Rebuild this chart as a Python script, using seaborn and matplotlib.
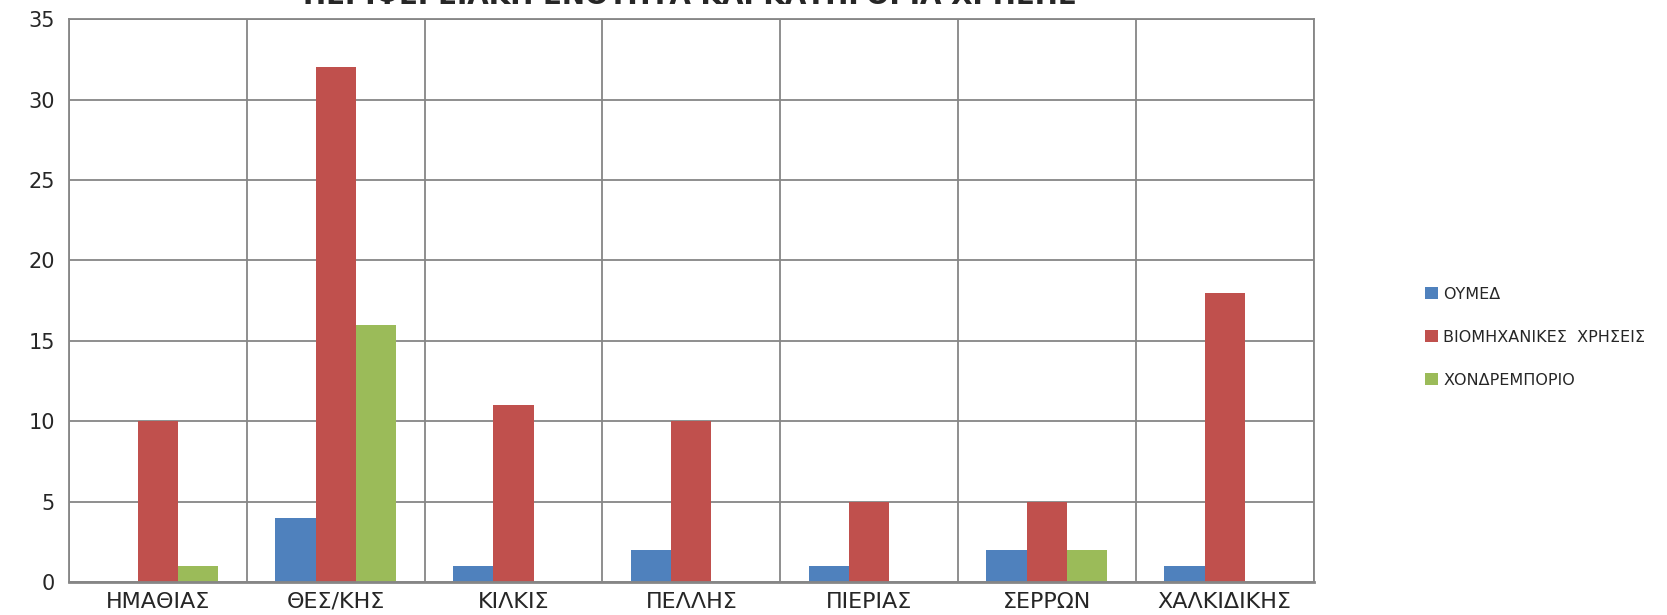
import seaborn as sns
import matplotlib.pyplot as plt
import pandas as pd
import numpy as np

# data
regions = ["ΗΜΑΘΙΑΣ", "ΘΕΣ/ΚΗΣ", "ΚΙΛΚΙΣ", "ΠΕΛΛΗΣ", "ΠΙΕΡΙΑΣ", "ΣΕΡΡΩΝ", "ΧΑΛΚΙΔΙΚΗΣ"]
series = ["ΟΥΜΕΔ", "ΒΙΟΜΗΧΑΝΙΚΕΣ  ΧΡΗΣΕΙΣ", "ΧΟΝΔΡΕΜΠΟΡΙΟ"]
oumed = [0, 4, 1, 2, 1, 2, 1]
viomix = [10, 32, 11, 10, 5, 5, 18]
xondr = [1, 16, 0, 0, 0, 2, 0]
yticks = [0, 5, 10, 15, 20, 25, 30, 35]
title = "ΠΕΡΙΦΕΡΕΙΑΚΗ ΕΝΟΤΗΤΑ ΚΑΙ ΚΑΤΗΓΟΡΙΑ ΧΡΗΣΗΣ"

colors = ["#4F81BD", "#C0504D", "#9BBB59"]
grid_col = "#868686"

df = pd.DataFrame({
    "region": regions * 3,
    "series": [series[0]] * 7 + [series[1]] * 7 + [series[2]] * 7,
    "value": oumed + viomix + xondr,
})

sns.set_style("white")
plt.rcParams["font.family"] = ["Liberation Sans Narrow", "DejaVu Sans"]

fig = plt.figure(figsize=(16.67, 6.15), dpi=100)
ax = fig.add_axes([0.0414, 0.0537, 0.7466, 0.915])

sns.barplot(data=df, x="region", y="value", hue="series", palette=colors,
            width=0.68, saturation=1, linewidth=0, ax=ax, legend=True)

ax.set_ylim(0, 35)
ax.set_xlim(-0.5, len(regions) - 0.5)
ax.set_yticks(yticks)
ax.set_xlabel("")
ax.set_ylabel("")

# horizontal gridlines
ax.yaxis.grid(True, color=grid_col, linewidth=1.3)
ax.set_axisbelow(True)

# category separators, running down past the axis
ax.set_xticks(np.arange(-0.5, len(regions)), minor=True)
ax.xaxis.grid(True, which="minor", color=grid_col, linewidth=1.3)
ax.tick_params(axis="x", which="minor", length=34, color=grid_col, width=1.3, direction="out")
ax.tick_params(axis="x", which="major", length=0, labelsize=16, pad=7)
ax.tick_params(axis="y", which="major", length=6, color=grid_col, width=1.3,
               direction="out", labelsize=15, pad=4)

for side in ["left", "right", "bottom", "top"]:
    ax.spines[side].set_color(grid_col)
    ax.spines[side].set_linewidth(1.3)
ax.spines["bottom"].set_linewidth(2)

leg = ax.legend(loc="center left", bbox_to_anchor=(1.078, 0.435), frameon=False,
                fontsize=11.5, handlelength=0.8, handleheight=0.8, handletextpad=0.35,
                labelspacing=1.75)

fig.text(0.414, 1 - 4 / 615, title, ha="center", va="baseline",
         fontsize=20, fontweight="bold")

fig.savefig("out.png", dpi=100, facecolor="white")
